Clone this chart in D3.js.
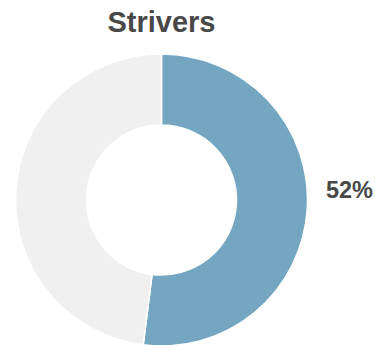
<!DOCTYPE html>
<html>
<head>
<meta charset="utf-8">
<script src="https://cdn.jsdelivr.net/npm/d3@7"></script>
<style>
  html, body { margin: 0; padding: 0; background: #fff; }
  svg { display: block; }
</style>
</head>
<body>
<div id="chart"></div>
<script>
// Share of respondents in the segment vs. the remainder
const title = "Strivers";
const categories = ["Strivers", "Other"];
const shares = [52, 48];
const labelText = "52%";

const width = 375, height = 345;
const cx = 161.5, cy = 200;
const outerR = 146, innerR = 75;

const svg = d3.select("#chart").append("svg")
  .attr("width", width)
  .attr("height", height);

const color = d3.scaleOrdinal()
  .domain(categories)
  .range(["#74a6c2", "#f0f0f0"]);

const pie = d3.pie().sort(null).value(d => d.value);
const arc = d3.arc().innerRadius(innerR).outerRadius(outerR);

const data = categories.map((c, i) => ({ name: c, value: shares[i] }));

const g = svg.append("g").attr("transform", `translate(${cx},${cy})`);

g.selectAll("path")
  .data(pie(data))
  .join("path")
  .attr("d", arc)
  .attr("fill", d => color(d.data.name))
  .attr("stroke", "#fff")
  .attr("stroke-width", 1.5);

svg.append("text")
  .attr("x", cx)
  .attr("y", 32)
  .attr("text-anchor", "middle")
  .attr("font-family", "Liberation Sans, Arial, sans-serif")
  .attr("font-weight", "bold")
  .attr("font-size", 29)
  .attr("fill", "#484848")
  .text(title);

svg.append("text")
  .attr("x", 349.5)
  .attr("y", 198)
  .attr("text-anchor", "middle")
  .attr("font-family", "Liberation Sans, Arial, sans-serif")
  .attr("font-weight", "bold")
  .attr("font-size", 23.5)
  .attr("fill", "#484848")
  .text(labelText);
</script>
</body>
</html>
